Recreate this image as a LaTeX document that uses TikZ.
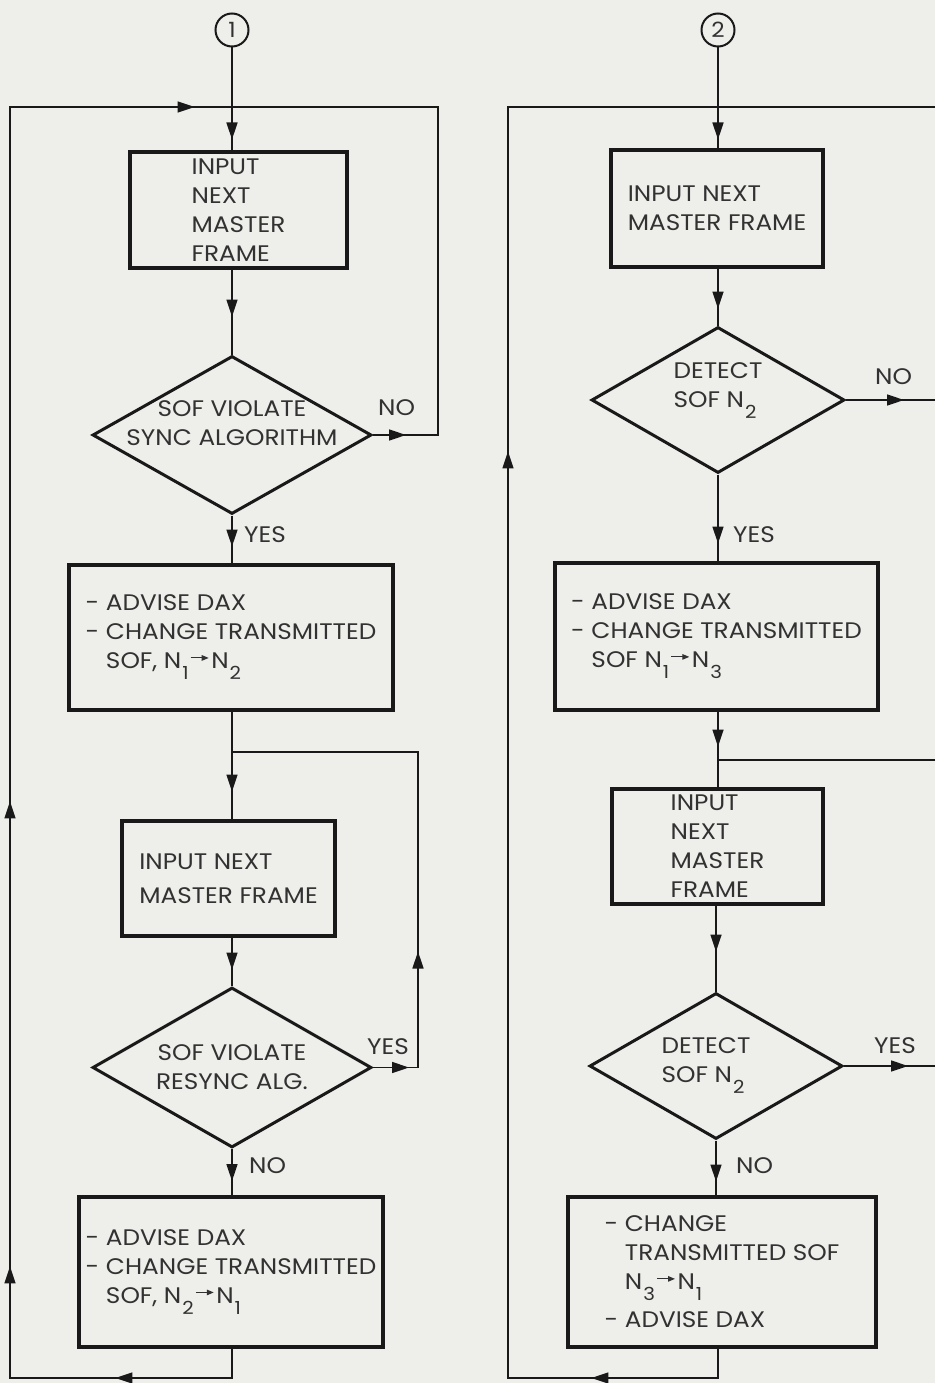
\documentclass[tikz,border=0pt]{standalone}
\usepackage{fontspec}
\setmainfont{Poppins}[FakeStretch=1.1]
\usetikzlibrary{arrows.meta,shapes.geometric,decorations.markings}
\definecolor{paper}{RGB}{238,238,235}
\definecolor{ink}{RGB}{25,25,25}
\definecolor{txt}{RGB}{50,50,50}
\newcommand\mainfs{\fontsize{22.5}{29}\selectfont}
\newcommand\subx[1]{\kern1pt\raisebox{-11pt}{\fontsize{18}{18}\selectfont #1}\kern1.5pt}
\newcommand\rarr{\tikz[x=1pt,y=1pt,baseline=0pt]\draw[line width=1.1pt,color=txt,-{Triangle[length=7pt,width=5.5pt]}] (0,11) -- (18,11);\kern2pt}
\tikzset{
  tipA/.tip={Triangle[length=17pt,width=11pt]},
  arr/.style={postaction={decorate,decoration={markings,mark=at position #1 with {\arrow{tipA}}}}},
  wire/.style={draw=ink,line width=1.5pt,fill=none},
  box/.style={draw=ink,line width=3.2pt,rectangle,inner sep=0pt,align=left,text=txt,font=\mainfs},
  dia/.style={draw=ink,line width=3pt,diamond,inner sep=0pt},
  dtext/.style={align=center,text=txt,font=\mainfs,inner sep=0pt},
  lbl/.style={text=txt,font=\mainfs,inner sep=0pt},
  circ/.style={circle,draw=ink,line width=2pt,minimum size=33pt,inner sep=0pt,text=txt,font=\fontsize{21}{21}\selectfont}
}
\begin{document}
\begin{tikzpicture}[x=1pt,y=-1pt]
\useasboundingbox[fill=paper] (0,0) rectangle (935,1383);

% ---------------- left column ----------------
\node[circ] (c1) at (232,30) {1};
\node[box,minimum width=217pt,minimum height=116pt] (b1) at (238.5,210) {INPUT\\NEXT\\MASTER\\FRAME};
\node[dia,minimum width=279pt,minimum height=158pt] (d1) at (232,435) {};
\node[dtext] (d1t) at ([yshift=12pt]d1.center) {SOF VIOLATE\\SYNC ALGORITHM};
\node[box,minimum width=324pt,minimum height=145pt] (b2) at (231,637.5) {- ADVISE DAX\\- CHANGE TRANSMITTED\\\phantom{- }SOF, N\subx{1}\rarr N\subx{2}};
\coordinate (j1) at (232,752);
\coordinate (j1r) at (418,752);
\node[box,minimum width=213pt,minimum height=115pt,font=\fontsize{22.5}{34}\selectfont] (b3) at (228.5,878.5) {INPUT NEXT\\MASTER FRAME};
\node[dia,minimum width=279pt,minimum height=160pt] (d2) at (232,1067.5) {};
\node[dtext] (d2t) at (d2.center) {SOF VIOLATE\\RESYNC ALG.};
\node[box,minimum width=304pt,minimum height=150pt] (b4) at (231,1272) {- ADVISE DAX\\- CHANGE TRANSMITTED\\\phantom{- }SOF, N\subx{2}\rarr N\subx{1}};

\coordinate (Lbot) at (232,1378);
\coordinate (Lbl) at (10,1378);
\coordinate (Ltl) at (10,107);
\coordinate (Ltop) at (232,107);
\coordinate (Ltr) at (438,107);
\coordinate (Lnr) at (438,435);
\coordinate (Lyr) at (418,1067.5);

\node[lbl,anchor=west] (no1) at (378,408) {NO};
\node[lbl,anchor=west] (yes1) at (244,535) {YES};
\node[lbl,anchor=west] (yes2) at (367,1047) {YES};
\node[lbl,anchor=west] (no2) at (249,1166) {NO};

\draw[wire,arr=92pt] (c1.south) -- (c1.south |- b1.north);
\draw[wire,arr=47pt] (d1.north |- b1.south) -- (d1.north);
\draw[wire,arr=33pt] (d1.east) -- (Lnr) -- (Ltr) -- (Ltop);
\draw[wire,arr=31pt] (d1.south) -- (d1.south |- b2.north);
\draw[wire,arr=80pt] (b2.south -| j1) -- (b3.north -| j1);
\draw[wire,arr=36pt,arr=161pt] (d2.east) -- (Lyr) -- (j1r) -- (j1);
\draw[wire,arr=32pt] (b3.south -| d2.north) -- (d2.north);
\draw[wire,arr=32pt] (d2.south) -- (d2.south |- b4.north);
\draw[wire,arr=146pt,arr=363pt,arr=828pt,arr=1707pt] (b4.south -| Lbot) -- (Lbot) -- (Lbl) -- (Ltl) -- (Ltop);

% ---------------- right column ----------------
\node[circ] (c2) at (718,30) {2};
\node[box,minimum width=212pt,minimum height=117pt] (r1) at (717,208.5) {INPUT NEXT\\MASTER FRAME};
\node[dia,minimum width=253pt,minimum height=146pt] (e1) at (718,400) {};
\node[dtext,align=left] (e1t) at ([yshift=9pt]e1.center) {DETECT\\SOF N\subx{2}};
\node[box,minimum width=323pt,minimum height=147pt] (r2) at (716.5,636.5) {- ADVISE DAX\\- CHANGE TRANSMITTED\\\phantom{- }SOF N\subx{1}\rarr N\subx{3}};
\coordinate (j2) at (718,760);
\coordinate (j2r) at (935,760);
\node[box,minimum width=211pt,minimum height=115pt] (r3) at (717.5,846.5) {INPUT\\NEXT\\MASTER\\FRAME};
\node[dia,minimum width=253pt,minimum height=146pt] (e2) at (716,1066) {};
\node[dtext,align=left] (e2t) at ([xshift=-10pt]e2.center) {DETECT\\SOF N\subx{2}};
\node[box,minimum width=308pt,minimum height=150pt] (r4) at (722,1272) {- CHANGE\\\phantom{- }TRANSMITTED SOF\\\phantom{- }N\subx{3}\rarr N\subx{1}\\[9pt]- ADVISE DAX};

\coordinate (Rbot) at (718,1378);
\coordinate (Rbl) at (508,1378);
\coordinate (Rtl) at (508,107);
\coordinate (Rtop) at (718,107);
\coordinate (Rtr) at (935,107);
\coordinate (Rno) at (935,400);
\coordinate (Ryes) at (935,1066);

\node[lbl,anchor=west] (no3) at (875,377) {NO};
\node[lbl,anchor=west] (yes3) at (733,535) {YES};
\node[lbl,anchor=west] (yes4) at (874,1046) {YES};
\node[lbl,anchor=west] (no4) at (736,1166) {NO};

\draw[wire,arr=92pt] (c2.south) -- (c2.south |- r1.north);
\draw[wire] (Rtr) -- (Rtop);
\draw[wire,arr=40pt] (e1.north |- r1.south) -- (e1.north);
\draw[wire,arr=58pt] (e1.east) -- (Rno);
\draw[wire,arr=69pt] (e1.south) -- (e1.south |- r2.north);
\draw[wire,arr=35pt] (e1.south |- r2.south) -- (e1.south |- r3.north);
\draw[wire] (j2r) -- (j2);
\draw[wire,arr=46pt] (e2.north |- r3.south) -- (e2.north);
\draw[wire,arr=64pt] (e2.east) -- (Ryes);
\draw[wire,arr=41pt] (e2.south) -- (e2.south |- r4.north);
\draw[wire,arr=156pt,arr=1166pt] (r4.south -| Rbot) -- (Rbot) -- (Rbl) -- (Rtl) -- (Rtop);
\end{tikzpicture}
\end{document}
